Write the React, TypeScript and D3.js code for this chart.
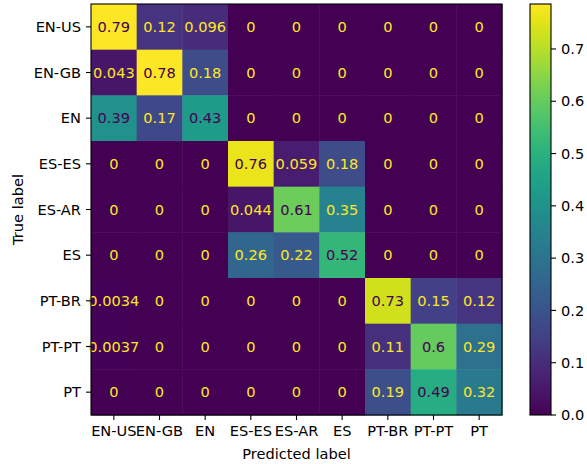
import * as d3 from "d3";

const labels = ["EN-US", "EN-GB", "EN", "ES-ES", "ES-AR", "ES", "PT-BR", "PT-PT", "PT"];

// rows = true label, cols = predicted label
const matrix: number[][] = [
  [0.786, 0.118, 0.096, 0, 0, 0, 0, 0, 0],
  [0.043, 0.78, 0.18, 0, 0, 0, 0, 0, 0],
  [0.394, 0.17, 0.43, 0, 0, 0, 0, 0, 0],
  [0, 0, 0, 0.76, 0.059, 0.18, 0, 0, 0],
  [0, 0, 0, 0.044, 0.61, 0.35, 0, 0, 0],
  [0, 0, 0, 0.26, 0.22, 0.52, 0, 0, 0],
  [0.0034, 0, 0, 0, 0, 0, 0.73, 0.15, 0.12],
  [0.0037, 0, 0, 0, 0, 0, 0.11, 0.6, 0.29],
  [0, 0, 0, 0, 0, 0, 0.19, 0.49, 0.32],
];

const colorbarTicks = [0, 0.1, 0.2, 0.3, 0.4, 0.5, 0.6, 0.7];

const W = 587;
const H = 464;
const left = 91;
const top = 4;
const size = 411;
const cbLeft = 530;
const cbWidth = 21;
const font = "DejaVu Sans, sans-serif";
const fs = 14.6;
const tick = 5;

export default function App() {
  const all = matrix.flat();
  const vmin = d3.min(all) ?? 0;
  const vmax = d3.max(all) ?? 1;
  const thresh = (vmin + vmax) / 2;
  const color = d3.scaleSequential(d3.interpolateViridis).domain([vmin, vmax]);
  const x = d3.scaleBand<string>().domain(labels).range([left, left + size]);
  const y = d3.scaleBand<string>().domain(labels).range([top, top + size]);
  const cb = d3.scaleLinear().domain([vmin, vmax]).range([top + size, top]);
  const fmt = d3.format(".2~g");
  const stops = d3.range(0, 1.0001, 0.02);

  return (
    <div>
      <style>{"body{margin:0}"}</style>
      <svg width={W} height={H} style={{ display: "block" }} fontFamily={font}>
        <defs>
          <linearGradient id="vir" x1="0" y1="1" x2="0" y2="0">
            {stops.map((t) => (
              <stop key={t} offset={t} stopColor={d3.interpolateViridis(t)} />
            ))}
          </linearGradient>
        </defs>
        {matrix.map((row, i) =>
          row.map((v, j) => (
            <rect
              key={`${i}-${j}`}
              x={x(labels[j])}
              y={y(labels[i])}
              width={x.bandwidth() + 0.5}
              height={y.bandwidth() + 0.5}
              fill={color(v)}
            />
          ))
        )}
        {matrix.map((row, i) =>
          row.map((v, j) => (
            <text
              key={`t${i}-${j}`}
              x={(x(labels[j]) ?? 0) + x.bandwidth() / 2}
              y={(y(labels[i]) ?? 0) + y.bandwidth() / 2}
              dy="0.35em"
              textAnchor="middle"
              fontSize={fs}
              fill={v < thresh ? d3.interpolateViridis(1) : d3.interpolateViridis(0)}
            >
              {fmt(v)}
            </text>
          ))
        )}
        <rect x={left} y={top} width={size} height={size} fill="none" stroke="#000" strokeWidth={1.1} />
        {labels.map((l) => {
          const cx = (x(l) ?? 0) + x.bandwidth() / 2;
          return (
            <g key={`x${l}`}>
              <line x1={cx} x2={cx} y1={top + size} y2={top + size + tick} stroke="#000" strokeWidth={1.1} />
              <text x={cx} y={top + size + 2 * tick} dy="0.76em" textAnchor="middle" fontSize={fs} fill="#000">
                {l}
              </text>
            </g>
          );
        })}
        {labels.map((l) => {
          const cy = (y(l) ?? 0) + y.bandwidth() / 2;
          return (
            <g key={`y${l}`}>
              <line x1={left} x2={left - tick} y1={cy} y2={cy} stroke="#000" strokeWidth={1.1} />
              <text x={left - 2 * tick} y={cy} dy="0.35em" textAnchor="end" fontSize={fs} fill="#000">
                {l}
              </text>
            </g>
          );
        })}
        <text x={left + size / 2} y={H - 5} textAnchor="middle" fontSize={fs} fill="#000">
          Predicted label
        </text>
        <text
          transform={`translate(${22.5},${top + size / 2}) rotate(-90)`}
          textAnchor="middle"
          fontSize={fs}
          fill="#000"
        >
          True label
        </text>
        <rect x={cbLeft} y={top} width={cbWidth} height={size} fill="url(#vir)" stroke="#000" strokeWidth={1.1} />
        {colorbarTicks.map((t) => (
          <g key={`c${t}`}>
            <line x1={cbLeft + cbWidth} x2={cbLeft + cbWidth + tick} y1={cb(t)} y2={cb(t)} stroke="#000" strokeWidth={1.1} />
            <text x={cbLeft + cbWidth + 2 * tick} y={cb(t)} dy="0.35em" fontSize={fs} fill="#000">
              {d3.format(".1f")(t)}
            </text>
          </g>
        ))}
      </svg>
    </div>
  );
}
